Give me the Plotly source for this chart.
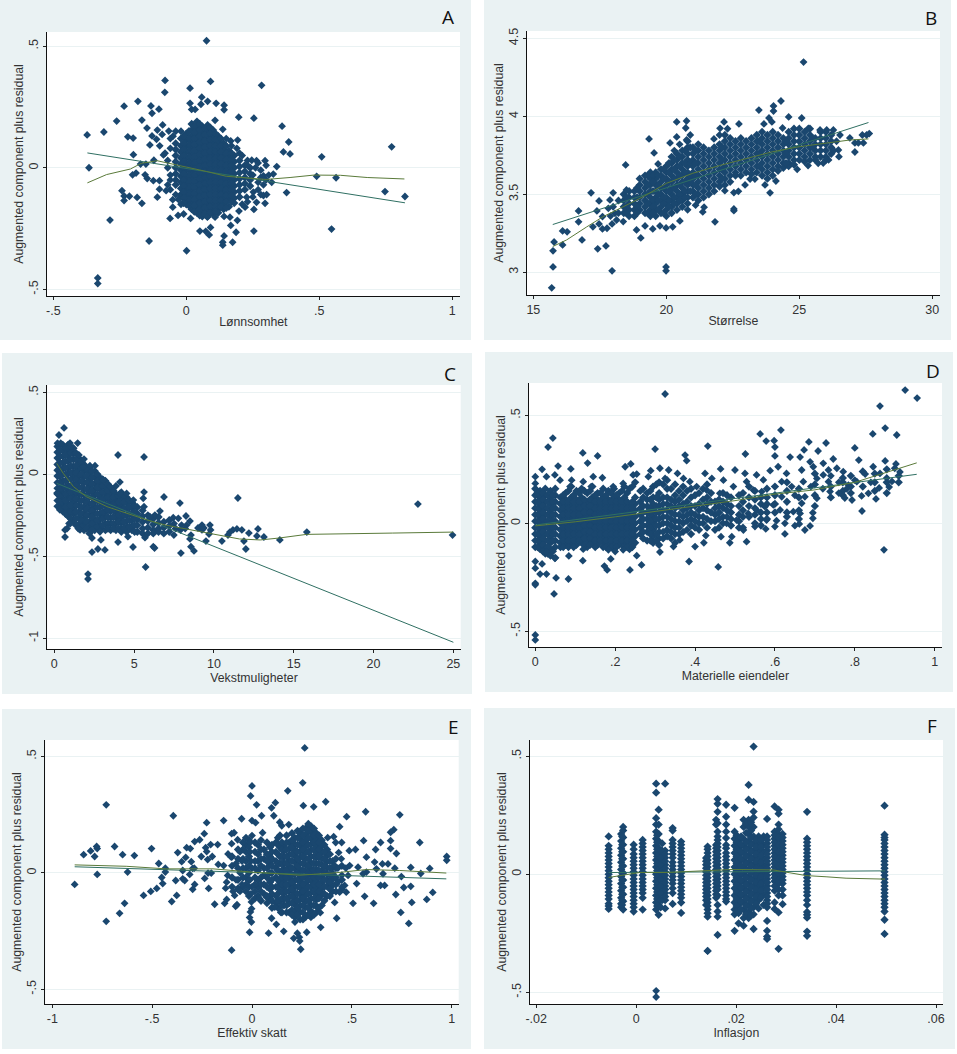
import plotly.graph_objects as go

# ---------- Panel A: Lønnsomhet ----------
a_col_x = [-.04,-.02,0,.02,.04,.06,.08,.1,.12,.14,.16,.18,.2,.22,.24,.01,.03,.05,.07,.09,.11,.13,-.01,.15,.17]
a_col_y = [
 [.10,.075,.05,.025,0,-.025,-.05,-.07],
 [.12,.09,.065,.04,.015,-.01,-.035,-.06,-.085,-.11,-.12],
 [.14,.115,.09,.065,.04,.015,-.01,-.035,-.06,-.085,-.11,-.135,-.15],
 [.18,.155,.13,.105,.08,.055,.03,.005,-.02,-.045,-.07,-.095,-.12,-.145,-.17],
 [.19,.165,.14,.115,.09,.065,.04,.015,-.01,-.035,-.06,-.085,-.11,-.135,-.16,-.185],
 [.17,.145,.12,.095,.07,.045,.02,-.005,-.03,-.055,-.08,-.105,-.13,-.155,-.18,-.2],
 [.175,.15,.125,.1,.075,.05,.025,0,-.025,-.05,-.075,-.1,-.125,-.15,-.175,-.2],
 [.155,.13,.105,.08,.055,.03,.005,-.02,-.045,-.07,-.095,-.12,-.145,-.17,-.19],
 [.13,.105,.08,.055,.03,.005,-.02,-.045,-.07,-.095,-.12,-.145,-.17,-.185],
 [.1,.075,.05,.025,0,-.025,-.05,-.075,-.1,-.125,-.15,-.17],
 [.07,.045,.02,-.005,-.03,-.055,-.08,-.105,-.13,-.16],
 [.05,.025,0,-.025,-.05,-.075,-.1,-.125,-.145],
 [.03,.005,-.02,-.045,-.07,-.095,-.12],
 [.01,-.015,-.04,-.065,-.09],
 [0,-.025,-.05,-.075],
 [.15,.12,.095,.07,.045,.02,-.005,-.03,-.055,-.08,-.105,-.13,-.155],
 [.17,.145,.12,.095,.07,.045,.02,-.005,-.03,-.055,-.08,-.105,-.13,-.155,-.18],
 [.18,.155,.13,.105,.08,.055,.03,.005,-.02,-.045,-.07,-.095,-.12,-.145,-.17,-.195],
 [.16,.135,.11,.085,.06,.035,.01,-.015,-.04,-.065,-.09,-.115,-.14,-.165,-.19],
 [.165,.14,.115,.09,.065,.04,.015,-.01,-.035,-.06,-.085,-.11,-.135,-.16,-.185],
 [.14,.115,.09,.065,.04,.015,-.01,-.035,-.06,-.085,-.11,-.135,-.16,-.18],
 [.12,.09,.065,.04,.015,-.01,-.035,-.06,-.085,-.11,-.135,-.16],
 [.13,.10,.075,.05,.025,0,-.025,-.05,-.075,-.1,-.125,-.145],
 [.09,.06,.035,.01,-.015,-.04,-.065,-.09,-.115,-.14,-.165],
 [.06,.035,.01,-.015,-.04,-.065,-.09,-.115,-.14],
]
a_pts = [(.076,.522),(-.08,.359),(.091,.355),(-.081,.31),(.014,.327),(.283,.339),(.058,.29),(.08,.273),(.014,.265),(.055,.261),
(.112,.265),(.142,.257),(.142,.238),(-.182,.273),(-.234,.253),(-.133,.254),(-.103,.241),(-.129,.224),(-.262,.192),(-.167,.196),
(.197,.208),(.254,.204),(.36,.171),(-.373,.135),(-.31,.147),(-.22,.127),(-.2,.122),(-.148,.163),(-.089,.176),(-.109,.155),
(-.129,.131),(-.091,.137),(-.066,.151),(.193,.114),(.385,.106),(-.137,.094),(-.112,.117),(-.1,.09),(.365,.065),(.39,.057),
(.772,.086),(.509,.045),(-.199,.054),(-.366,0),(-.172,.015),(-.152,.015),(-.122,.031),(-.086,.053),(-.189,-.022),(-.202,-.029),
(-.155,-.029),(-.147,-.044),(-.124,-.053),(-.101,-.053),(-.101,-.088),(-.076,-.094),(-.109,-.121),(-.242,-.094),(-.234,-.116),(-.234,-.135),
(-.214,-.117),(-.185,-.122),(-.167,-.146),(-.051,-.131),(-.051,-.162),(-.061,-.208),(-.031,-.196),(-.01,-.19),(.016,-.208),(-.287,-.215),
(-.14,-.301),(.001,-.341),(-.333,-.453),(-.333,-.476),(.051,-.26),(.091,-.245),(.073,-.261),(.086,-.276),(.142,-.28),(.137,-.306),
(.137,-.318),(.174,-.306),(.187,-.265),(.167,-.237),(.254,-.26),(.546,-.252),(.747,-.098),(.822,-.118),(.49,-.035),(.563,-.041),
(.377,-.102),(.296,-.146),(.264,-.142),(.254,-.171),(.221,-.162),(.198,-.178),(.192,-.216),(.164,-.203),(.142,-.2),(.108,-.203),
(.079,-.203),(.29,-.114),(.302,-.11),(.327,-.026),(.321,-.06),(.34,.005),(.296,.029),(.264,.029),(.246,.031),(.29,-.033),
(.252,-.10),(.227,-.121),(.167,.11),(.137,.158),(.108,.195),(.02,.24),(.033,.24),(-.06,.12),(-.08,.06),(-.07,.0),(-.06,-.05),
(-.06,-.09),(.25,-.03),(.27,-.06),(.28,-.01),(.23,.03),(.2,.06),(.17,.09),(.15,.12),(-.06,.08),(-.07,.03),(-.05,.13),(-.04,.15),
(-.02,.15),(-.06,-.03),(-.07,-.07),(-.04,-.11),(-.02,-.15),(-.03,-.13),(.26,0),(.27,.02),(.28,-.04),(.3,.01),(.3,-.05),(.31,-.03),
(.27,-.09),(.29,-.07),(.28,-.11),(.25,-.12),(.23,-.14),(.21,-.15),(.19,.08),(.21,.05),(.23,.01)]
a_reg_x = [-.372,.822]
a_reg_y = [.061,-.144]
a_low_x = [-.372,-.30,-.21,-.17,-.11,-.05,0,.075,.15,.23,.30,.39,.48,.58,.68,.82]
a_low_y = [-.062,-.028,-.005,.018,.029,.015,.005,-.015,-.035,-.043,-.048,-.04,-.03,-.031,-.04,-.046]

# ---------- Panel B: Størrelse ----------
b_col_x = [18.4,18.6,18.8,19,19.2,19.4,19.6,19.8,20,20.2,20.4,20.6,20.8,21,21.2,21.4,21.6,21.8,22,22.2,22.4,22.6,22.8,23,23.2,23.4,23.6,23.8,24,24.2,24.4,24.6,24.8,25,25.2,25.4,25.6,25.8,26,26.2,
           19.3,19.5,19.7,19.9,20.1,20.3,20.5,20.7,20.9,21.1,18.9,18.5,22.1,23.5,24.5,25.5]
b_col_y = [
 [3.50,3.46,3.42,3.38],[3.52,3.48,3.44,3.40,3.36],[3.52,3.48,3.44,3.40,3.36],[3.60,3.56,3.52,3.48,3.44,3.40],
 [3.62,3.58,3.54,3.50,3.46,3.42,3.38],[3.64,3.60,3.56,3.52,3.48,3.44,3.40,3.36],[3.64,3.60,3.56,3.52,3.48,3.44,3.40,3.36],
 [3.66,3.62,3.58,3.54,3.50,3.46,3.42,3.38],[3.68,3.64,3.60,3.56,3.52,3.48,3.44,3.40,3.36],[3.74,3.70,3.66,3.62,3.58,3.54,3.50,3.46,3.42,3.38],
 [3.76,3.72,3.68,3.64,3.60,3.56,3.52,3.48,3.44,3.40],[3.78,3.74,3.70,3.66,3.62,3.58,3.54,3.50,3.46,3.42],[3.84,3.80,3.76,3.72,3.68,3.64,3.60,3.56,3.52,3.48,3.44],
 [3.80,3.76,3.72,3.68,3.64,3.60,3.56,3.52,3.48],[3.82,3.78,3.74,3.70,3.66,3.62,3.58,3.54,3.50,3.46],[3.80,3.76,3.72,3.68,3.64,3.60,3.56,3.52,3.48],
 [3.78,3.74,3.70,3.66,3.62,3.58,3.54,3.50],[3.80,3.76,3.72,3.68,3.64,3.60,3.56,3.52],[3.82,3.78,3.74,3.70,3.66,3.62,3.58,3.55],
 [3.88,3.84,3.80,3.76,3.72,3.68,3.64,3.60,3.56],[3.86,3.82,3.78,3.74,3.70,3.66,3.62,3.58],[3.84,3.80,3.76,3.72,3.68,3.64,3.62],
 [3.86,3.82,3.78,3.74,3.70,3.66,3.62],[3.84,3.80,3.76,3.72,3.68,3.64],[3.86,3.82,3.78,3.74,3.70,3.66,3.63],
 [3.88,3.84,3.80,3.76,3.72,3.68,3.64],[3.90,3.86,3.82,3.78,3.74,3.70,3.66,3.62],[3.88,3.84,3.80,3.76,3.72,3.68,3.64,3.60],
 [3.90,3.86,3.82,3.78,3.74,3.70,3.66,3.62],[3.88,3.84,3.80,3.76,3.72,3.68,3.65],[3.86,3.82,3.78,3.74,3.70,3.67],
 [3.90,3.86,3.82,3.78,3.74,3.70,3.68],[3.92,3.88,3.84,3.80,3.76,3.72,3.69],[3.92,3.88,3.84,3.80,3.76,3.72],
 [3.90,3.86,3.82,3.78,3.74,3.71],[3.92,3.88,3.84,3.80,3.76,3.72],[3.86,3.82,3.78,3.74,3.72],[3.90,3.86,3.82,3.78,3.74],
 [3.90,3.86,3.82,3.78,3.74,3.72],[3.88,3.84,3.80,3.76],
 [3.62,3.56,3.50,3.44,3.38],[3.62,3.58,3.52,3.46,3.42,3.38],[3.62,3.56,3.50,3.46,3.40],[3.66,3.60,3.54,3.48,3.44,3.38],
 [3.70,3.64,3.58,3.52,3.46,3.42],[3.72,3.66,3.60,3.54,3.48,3.44],[3.74,3.68,3.62,3.56,3.50,3.46],[3.78,3.70,3.64,3.58,3.52,3.48],
 [3.80,3.70,3.62,3.58,3.52],[3.78,3.70,3.62,3.56,3.50],[3.54,3.48,3.42,3.38],[3.48,3.42,3.38],[3.80,3.72,3.66,3.60],[3.84,3.76,3.68],[3.84,3.76,3.70],[3.86,3.80],
]
b_pts = [(25.16,4.348),(15.69,2.9),(15.74,3.034),(15.74,3.137),(15.78,3.194),(16.1,3.175),(16.1,3.265),(16.27,3.259),(16.7,3.393),(16.7,3.323),
(16.83,3.207),(17.17,3.509),(17.24,3.291),(17.39,3.393),(17.42,3.15),(17.47,3.457),(17.47,3.31),(17.6,3.357),(17.6,3.278),(17.73,3.169),
(17.77,3.282),(17.96,3.009),(17.96,3.31),(18,3.509),(17.88,3.464),(17.82,3.41),(18.07,3.378),(18.13,3.335),(18.38,3.325),(18.47,3.688),
(18.5,3.528),(18.88,3.271),(19.04,3.22),(19.2,3.297),(19.35,3.855),(19.49,3.278),(19.54,3.765),(19.69,3.694),(19.76,3.297),(19.99,3.284),
(19.99,3.034),(19.99,3.009),(20.24,3.291),(20.51,3.329),(20.14,3.829),(20.39,3.964),(20.39,3.868),(20.76,3.97),(20.73,3.925),(20.76,3.848),
(21.83,3.323),(21.42,3.417),(21.37,3.387),(21.79,3.855),(22.17,3.964),(22.02,3.923),(22.2,3.523),(22.54,3.406),(22.54,3.395),(22.73,3.951),
(22.54,3.511),(22.71,3.519),(22.96,3.56),(23.15,3.598),(23.33,3.598),(23.48,4.04),(23.71,3.56),(23.9,3.509),(24.12,3.585),(24.03,4.034),
(24.03,4.066),(24.31,4.098),(23.86,3.989),(23.97,3.964),(23.67,3.951),(24.6,3.996),(24.37,3.925),(25.09,3.989),(26.9,3.861),(26.49,3.741),
(27.09,3.771),(27.09,3.829),(27.22,3.829),(27.41,3.829),(27.37,3.88),(27.53,3.88),(27.63,3.889),(26.53,3.88),(26.28,3.912),(26.03,3.912),
(25.78,3.912),(25.34,3.923),(25.33,3.684),(24.92,3.66),(25.71,3.699),(26.47,3.784),(18.2,3.46),(18.2,3.38),(18.0,3.42),(17.9,3.36),
(20.5,3.82),(20.3,3.78),(20.9,3.88),(20.8,3.40),(21.1,3.43),(22.3,3.92),(22.0,3.88),(26.4,3.84),(26.3,3.78),(26.1,3.72),(25.9,3.70)]
b_reg_x = [15.73,27.6]
b_reg_y = [3.306,3.96]
b_low_x = [15.73,16.25,17,17.63,18.38,19.14,20,21,22,23,24,25,26,26.9,27.6]
b_low_y = [3.165,3.207,3.29,3.357,3.42,3.485,3.57,3.635,3.684,3.73,3.773,3.805,3.83,3.848,3.855]

# ---------- Panel C: Vekstmuligheter ----------
c_col_x = [.2,.53,.86,1.2,1.53,1.86,2.2,2.53,2.86,3.2,3.53,3.86,4.2,4.53,4.86,5.2,5.53,5.86,6.2,6.53,6.86,7.2,
           .36,.7,1.03,1.36,1.7,2.03,2.36,2.7,3.03,3.36,3.7,4.03,4.36,4.7,5.03]
c_col_y = [
 [.17,.135,.10,.06,.025,-.01,-.05,-.085,-.12,-.16,-.195],
 [.18,.145,.11,.07,.035,0,-.04,-.075,-.11,-.15,-.185,-.225],
 [.18,.15,.115,.08,.04,.005,-.03,-.07,-.105,-.14,-.18,-.215,-.255],
 [.16,.125,.09,.05,.015,-.02,-.06,-.095,-.13,-.17,-.205,-.24,-.285],
 [.10,.065,.03,-.01,-.045,-.08,-.12,-.155,-.19,-.23,-.265,-.305],
 [.06,.02,-.015,-.05,-.09,-.125,-.16,-.2,-.235,-.27,-.31,-.34],
 [.04,.005,-.03,-.07,-.105,-.14,-.18,-.215,-.25,-.29,-.325,-.36],
 [.02,-.015,-.055,-.09,-.125,-.165,-.2,-.235,-.275,-.31,-.34],
 [-.02,-.055,-.09,-.13,-.165,-.2,-.24,-.275,-.31,-.33],
 [-.04,-.08,-.115,-.15,-.19,-.225,-.26,-.3,-.34],
 [-.08,-.115,-.155,-.19,-.225,-.265,-.3,-.34],
 [-.12,-.155,-.19,-.23,-.265,-.3,-.34],
 [-.11,-.15,-.185,-.22,-.26,-.295,-.33,-.35],
 [-.14,-.175,-.21,-.25,-.285,-.32,-.35],
 [-.17,-.205,-.245,-.28,-.315,-.34],
 [-.20,-.24,-.275,-.31,-.35],
 [-.22,-.255,-.29,-.33,-.36],
 [-.25,-.285,-.325,-.36],
 [-.27,-.305,-.34,-.36],
 [-.26,-.295,-.33,-.35],
 [-.29,-.325,-.36],
 [-.28,-.315,-.35],
 [.15,.11,.07,.03,-.01,-.05,-.09,-.13,-.17,-.21],
 [.16,.12,.08,.04,0,-.04,-.08,-.12,-.16,-.20,-.24],
 [.17,.13,.09,.05,.01,-.03,-.07,-.11,-.15,-.19,-.23,-.27],
 [.13,.09,.05,.01,-.03,-.07,-.11,-.15,-.19,-.23,-.27,-.31],
 [.08,.04,0,-.04,-.08,-.12,-.16,-.20,-.24,-.28,-.32],
 [.03,-.01,-.05,-.09,-.13,-.17,-.21,-.25,-.29,-.33],
 [.02,-.02,-.06,-.10,-.14,-.18,-.22,-.26,-.30,-.34],
 [0,-.04,-.08,-.12,-.16,-.20,-.24,-.28,-.32],
 [-.03,-.07,-.11,-.15,-.19,-.23,-.27,-.31],
 [-.06,-.10,-.14,-.18,-.22,-.26,-.30,-.33],
 [-.10,-.14,-.18,-.22,-.26,-.30,-.33],
 [-.13,-.17,-.21,-.25,-.29,-.33],
 [-.13,-.17,-.21,-.25,-.29,-.33],
 [-.16,-.20,-.24,-.28,-.32],
 [-.19,-.23,-.27,-.31,-.35],
]
c_pts = [(.61,.283),(.29,.24),(1.46,.191),(.98,.191),(1.54,.118),(1.86,.093),(3.99,.118),(5.62,.106),(5.62,-.108),(4.11,-.047),
(3.86,-.071),(6.87,-.138),(7.87,-.175),(11.5,-.144),(22.78,-.181),(24.95,-.37),(15.82,-.352),(14.13,-.40),(13.13,-.382),(12.76,-.333),
(12.69,-.376),(12.19,-.358),(12.0,-.455),(11.88,-.407),(11.75,-.339),(11.44,-.333),(11.19,-.339),(11.0,-.352),(10.88,-.37),(10.5,-.407),
(9.75,-.309),(9.79,-.339),(9.69,-.364),(9.5,-.407),(9.25,-.309),(9.25,-.339),(9.0,-.327),(9.37,-.327),(8.5,-.285),(8.25,-.254),
(8.56,-.37),(8.5,-.394),(8.56,-.441),(8.75,-.467),(7.93,-.48),(7.49,-.37),(7.77,-.268),(7.45,-.264),(7.97,-.309),(8.29,-.309),
(6.62,-.224),(6.3,-.248),(5.99,-.258),(4.93,-.443),(3.99,-.413),(3.17,-.461),(2.73,-.455),(2.36,-.474),(2.11,-.608),(2.11,-.638),
(5.72,-.565),(2.92,-.40),(2.36,-.388),(.67,-.382),(.67,-.339),(.92,-.299),(.17,-.114),(.35,-.217),(6.2,-.441),(6.28,-.449),
(5.68,-.386),(4.61,-.38),(2.86,-.35),(1.61,-.339),(5.62,-.197),(5.57,-.146),(4.95,-.157),(4.53,-.116),(4.11,-.116),(3.49,-.075),
(2.55,.053),(2.23,.053),(1.82,.047),(3.07,-.035),(.8,-.33),(1.0,-.30),(1.5,-.33),(.2,.19),(.4,.19),(7.5,-.30),(7.6,-.33),(7.9,-.34),(8.2,-.33)]
c_reg_x = [.15,25]
c_reg_y = [-.055,-1.024]
c_low_x = [.15,.56,1.2,2.0,3.3,4.5,5.8,7,8.3,10,11.6,12.9,14.1,15.8,18.1,21.2,25]
c_low_y = [.067,.006,-.075,-.136,-.197,-.238,-.278,-.31,-.335,-.364,-.394,-.40,-.388,-.366,-.364,-.358,-.352]

# ---------- Panel D: Materielle eiendeler ----------
d_col_x = [0,.012,.025,.038,.05,.063,.076,.09,.103,.116,.13,.143,.156,.17,.183,.197,.21,.223,.236,.25,.263,.28,.295,.31,.33,.35,.37,.39,.41,.43,.45,.47,.49,.52,.55,.58,
           .006,.019,.031,.044,.07,.083,.096,.11,.123,.137,.15,.163,.177,.19,.203,.217,.23,.243,.27,.288,.303,.32,.34,.36,.38,.40,.42,.44,.46,.48,.51,.535,.565,.60,.63,.66,.70,.74,.77,.79,.82,.85,.88,.91]
d_col_y = [
 [.16,.13,.10,.07,.04,.01,-.02,-.05,-.08,-.11],
 [.15,.12,.09,.06,.03,0,-.03,-.06,-.09,-.12],
 [.16,.13,.10,.07,.04,.01,-.02,-.05,-.08,-.11,-.14],
 [.15,.12,.09,.06,.03,0,-.03,-.06,-.09,-.12,-.15],
 [.16,.13,.10,.07,.04,.01,-.02,-.05,-.08,-.11,-.16],
 [.12,.09,.06,.03,0,-.03,-.06,-.09,-.11],
 [.14,.11,.08,.05,.02,-.01,-.04,-.07,-.10],
 [.17,.12,.09,.06,.03,0,-.03,-.06,-.09],
 [.15,.11,.08,.05,.02,-.01,-.04,-.07,-.10],
 [.16,.12,.09,.06,.03,0,-.03,-.06,-.09],
 [.14,.10,.07,.04,.01,-.02,-.05,-.08,-.11],
 [.17,.12,.09,.06,.03,0,-.03,-.06,-.09],
 [.14,.11,.08,.05,.02,-.01,-.04,-.07,-.10],
 [.16,.12,.09,.06,.03,0,-.03,-.06,-.09,-.11],
 [.15,.11,.08,.05,.02,-.01,-.04,-.07,-.10],
 [.16,.12,.09,.06,.03,0,-.03,-.06,-.09,-.12],
 [.14,.11,.08,.05,.02,-.01,-.04,-.07,-.10],
 [.17,.12,.09,.06,.03,0,-.03,-.06,-.09,-.11],
 [.16,.08,.05,.02,-.01,-.04,-.07,-.10,-.12],
 [.19,.12,.09,.06,.03,0,-.03,-.06,-.09],
 [.15,.10,.07,.04,.01,-.02,-.05],
 [.14,.11,.08,.05,.02,-.01,-.04,-.08],
 [.17,.12,.09,.06,.03,0,-.03,-.06,-.09],
 [.19,.14,.11,.08,.05,.02,-.01,-.04,-.07,-.10],
 [.20,.16,.12,.09,.06,.03,0,-.03,-.06],
 [.18,.13,.10,.07,.04,.01,-.02,-.05,-.09],
 [.17,.13,.09,.06,.03,0,-.04],
 [.16,.12,.08,.05,.02,-.01,-.05],
 [.14,.09,.06,.03,0,-.03],
 [.18,.12,.09,.06,.02,-.02],
 [.10,.07,.04,.01,-.03],
 [.14,.10,.07,.03,0],
 [.12,.08,.05,.02,-.01],
 [.14,.10,.06,.03,-.02],
 [.15,.11,.07,.04,0],
 [.16,.12,.09,.05,.02],
 [.14,.10,.07,.04,.01,-.02,-.05,-.08,-.11],
 [.14,.11,.08,.05,.02,-.01,-.04,-.07,-.10,-.13],
 [.13,.10,.07,.04,.01,-.02,-.05,-.08,-.11,-.14],
 [.13,.10,.07,.04,.01,-.02,-.05,-.08,-.13],
 [.13,.10,.07,.04,.01,-.02,-.05,-.08,-.11],
 [.15,.10,.07,.04,.01,-.02,-.05,-.08,-.11],
 [.13,.10,.07,.04,.01,-.02,-.05,-.08,-.11],
 [.14,.10,.07,.04,.01,-.02,-.05,-.08],
 [.15,.11,.08,.05,.02,-.01,-.04,-.07,-.10],
 [.15,.11,.08,.05,.02,-.01,-.04,-.07,-.10],
 [.13,.10,.07,.04,.01,-.02,-.05,-.08,-.11],
 [.14,.10,.07,.04,.01,-.02,-.05,-.08],
 [.13,.10,.07,.04,.01,-.02,-.05,-.08,-.11],
 [.14,.10,.07,.04,.01,-.02,-.05,-.08,-.11],
 [.13,.10,.07,.04,.01,-.02,-.05,-.08,-.11],
 [.15,.10,.07,.04,.01,-.02,-.05,-.08],
 [.14,.10,.07,.04,.01,-.02,-.05,-.08,-.11],
 [.17,.10,.07,.04,.01,-.02,-.05,-.08,-.11],
 [.16,.12,.08,.05,.02,-.01,-.04,-.07],
 [.15,.11,.07,.04,.01,-.02,-.05,-.08],
 [.18,.12,.08,.05,.02,-.01,-.05,-.08],
 [.18,.12,.09,.06,.03,0,-.04,-.07],
 [.16,.11,.08,.05,.02,-.01,-.04,-.07],
 [.15,.11,.08,.04,.01,-.02,-.05],
 [.15,.10,.07,.04,.01,-.03],
 [.13,.08,.04,.01,-.02],
 [.16,.11,.07,.03,0],
 [.14,.10,.05,.01],
 [.11,.08,.05,.02,-.02],
 [.13,.09,.06,.03],
 [.13,.08,.04,.01,-.02],
 [.17,.12,.08,.03],
 [.12,.09,.05,.02,-.01],
 [.17,.13,.09,.05],
 [.19,.15,.10,.05,.03],
 [.16,.12,.06,.02],
 [.23,.18,.13,.08],
 [.17,.12],
 [.21,.19,.15,.13],
 [.22,.17,.14],
 [.24,.17],
 [.23,.19,.15],
 [.25,.19,.14],
 [.22,.19],
]
d_pts = [(.325,.599),(.926,.617),(.956,.58),(.863,.543),(.876,.441),(.845,.414),(.905,.409),(.80,.349),(.81,.293),(.044,.395),
(.032,.353),(.119,.326),(.156,.312),(.131,.279),(.057,.265),(.017,.25),(.089,.252),(.30,.344),(.375,.316),(.379,.29),
(.432,.358),(.563,.414),(.578,.381),(.598,.383),(.60,.353),(.60,.312),(.615,.432),(.526,.321),(.638,.307),(.663,.307),
(.673,.34),(.685,.377),(.708,.335),(.728,.372),(.746,.298),(.876,.289),(.903,.275),(.873,-.123),(.818,.057),(.793,.108),
(.775,.117),(.853,.113),(.834,.139),(.817,.127),(.861,.164),(.886,.168),(.893,.194),(.913,.238),(.90,.255),(.863,.231),
(.846,.262),(.826,.228),(.805,.193),(.784,.177),(.771,.239),(.755,.255),(.734,.247),(.721,.278),(.721,.224),(.734,.193),
(.738,.147),(.705,.208),(.705,.116),(.696,.262),(.688,.285),(.667,.247),(.671,.193),(.675,.123),(.667,.093),(.695,.049),
(.695,.023),(.688,-.012),(.675,-.031),(.663,.046),(.661,-.003),(.65,-.011),(.646,.054),(.625,-.049),(.625,0),(.60,-.015),
(.604,.012),(.613,.062),(.596,.085),(.617,.123),(.642,.17),(.617,.193),(.629,.231),(.608,.262),(.588,.244),(.571,.201),
(.554,.224),(.546,.154),(.567,.147),(.575,.077),(.579,.015),(.577,-.026),(.554,.062),(.55,-.015),(.533,.046),(.521,-.031),
(.529,-.085),(.504,.015),(.492,-.062),(.487,-.09),(.465,-.062),(.479,0),(.458,-.202),(.422,-.09),(.427,-.057),(.40,-.108),
(.385,-.177),(.362,-.077),(.346,-.108),(.312,-.133),(.266,-.193),(.237,-.216),(.18,-.216),(.173,-.198),(.189,-.165),(.119,-.173),
(.083,-.258),(.052,-.253),(.047,-.327),(.028,-.235),(.012,-.235),(0,-.208),(0,-.177),(.017,-.188),(0,-.278),(0,-.285),
(0,-.517),(0,-.54),(.084,-.151),(.049,-.162),(.028,-.131),(.254,-.15),(.22,-.123),(.2,-.131),(.183,-.123),(.12,-.12),
(0,.216),(0,.185),(.028,.216),(.049,.224),(.062,.2),(.087,.17),(.091,.2),(.12,.193),(.145,.216),(.14,.17),
(.168,.211),(.195,.17),(.22,.185),(.225,.262),(.239,.275),(.245,.224),(.254,.228),(.283,.216),(.289,.244),(.312,.255),
(.334,.247),(.325,.208),(.356,.231),(.371,.208),(.387,.193),(.425,.231),(.442,.208),(.464,.252),(.471,.2),(.5,.247),
(.525,.231),(.529,.193),(.496,.17),(.462,.139),(.429,.154),(.404,.17),(.76,.19),(.78,.16),(.8,.2),(.84,.19),(.88,.21),(.74,.22),(.69,.17),(.65,.13),(.72,.16),(.76,.14)]
d_reg_x = [0,.955]
d_reg_y = [-.008,.227]
d_low_x = [0,.1,.2,.3,.4,.5,.6,.7,.8,.9,.955]
d_low_y = [-.012,.007,.03,.055,.08,.105,.135,.155,.19,.25,.28]

# ---------- Panel E: Effektiv skatt ----------
e_col_x = [-.03,.03,.06,.09,.12,.14,.16,.187,.214,.241,.268,.295,.322,.349,.376,.403,
           .10,.13,.15,.173,.20,.228,.255,.282,.31,.335,.362,.39,.42,.45,.075,.045,.015,-.015,-.045,-.07,-.10]
e_col_y = [
 [.15,.12,.09,.05,.02,-.02,-.05,-.08],
 [.12,.08,.05,.01,-.03,-.06,-.10],
 [.10,.06,.02,-.01,-.05,-.09],
 [.11,.07,.04,0,-.04,-.07,-.11],
 [.13,.09,.05,.02,-.02,-.06,-.10,-.13],
 [.16,.11,.07,.04,0,-.04,-.08,-.12],
 [.12,.094,.068,.042,.016,-.01,-.036,-.062,-.088,-.114,-.14],
 [.13,.104,.078,.052,.026,0,-.026,-.052,-.078,-.104,-.13,-.17],
 [.15,.124,.098,.072,.046,.02,-.006,-.032,-.058,-.084,-.11,-.136,-.162,-.19],
 [.17,.144,.118,.092,.066,.04,.014,-.012,-.038,-.064,-.09,-.116,-.142,-.168,-.2],
 [.19,.164,.138,.112,.086,.06,.034,.008,-.018,-.044,-.07,-.096,-.122,-.148,-.19],
 [.20,.174,.148,.122,.096,.07,.044,.018,-.008,-.034,-.06,-.086,-.112,-.138,-.164,-.19],
 [.17,.144,.118,.092,.066,.04,.014,-.012,-.038,-.064,-.09,-.116,-.142,-.17],
 [.14,.114,.088,.062,.036,.01,-.016,-.042,-.068,-.094,-.14],
 [.10,.074,.048,.022,-.004,-.03,-.056,-.10],
 [.05,.024,-.002,-.028,-.054,-.08],
 [.12,.09,.06,.03,0,-.03,-.06,-.09,-.12,-.15],
 [.15,.12,.08,.04,.01,-.03,-.06,-.09,-.12,-.15],
 [.13,.10,.07,.04,.01,-.02,-.05,-.08,-.11,-.14,-.17],
 [.16,.13,.10,.07,.04,.01,-.02,-.05,-.08,-.11,-.14,-.17],
 [.17,.14,.11,.08,.05,.02,-.01,-.04,-.07,-.10,-.13,-.16,-.18],
 [.18,.15,.12,.09,.06,.03,0,-.03,-.06,-.09,-.12,-.15,-.18],
 [.19,.16,.13,.10,.07,.04,.01,-.02,-.05,-.08,-.11,-.14,-.17,-.20],
 [.21,.18,.15,.12,.09,.06,.03,0,-.03,-.06,-.09,-.12,-.15,-.18],
 [.19,.16,.13,.10,.07,.04,.01,-.02,-.05,-.08,-.11,-.14,-.18],
 [.16,.13,.10,.07,.04,.01,-.02,-.05,-.08,-.11,-.15],
 [.12,.09,.06,.03,0,-.03,-.06,-.09,-.12],
 [.08,.05,.02,-.01,-.04,-.07,-.10],
 [.06,.02,-.02,-.05,-.08],
 [.03,-.03,-.07],
 [.13,.08,.05,.02,-.02,-.06,-.10,-.13],
 [.14,.10,.06,.03,-.02,-.05,-.08,-.12],
 [.13,.09,.05,.02,-.02,-.05,-.08,-.11],
 [.14,.11,.07,.03,0,-.03,-.06,-.10],
 [.13,.10,.06,.02,-.02,-.06],
 [.10,.06,.02,-.03,-.07],
 [.07,.03,-.02,-.06],
]
e_pts = [(.264,.536),(.254,.386),(0,.373),(-.007,.33),(.179,.352),(.023,.292),(.117,.301),(.098,.279),(.369,.305),(.257,.288),
(.309,.283),(-.73,.292),(-.394,.245),(.569,.262),(.74,.249),(.474,.241),(.048,.245),(.109,.245),(-.142,.224),(-.052,.232),
(-.227,.215),(0,.224),(.018,.215),(.139,.217),(.149,.202),(.184,.207),(.439,.198),(.71,.185),(.694,.174),(-.239,.168),
(-.262,.142),(-.287,.134),(-.102,.168),(-.09,.172),(.053,.172),(-.072,.142),(-.102,.125),(.409,.155),(.379,.151),(.559,.138),
(.644,.13),(.694,.138),(.84,.13),(.419,.13),(.449,.13),(.619,.1),(.694,.104),(.723,.083),(.487,.095),(.518,.1),
(.434,.087),(-.843,.078),(-.808,.094),(-.788,.07),(-.778,.113),(-.775,.104),(-.688,.113),(-.648,.078),(-.589,.074),(-.503,.104),
(-.372,.087),(-.327,.108),(-.309,.104),(-.352,.048),(-.332,.066),(-.304,.048),(-.254,.07),(-.232,.108),(-.207,.121),(-.172,.121),
(-.227,.091),(-.199,.07),(-.222,.057),(-.467,.04),(-.434,.02),(-.434,.003),(-.347,.01),(-.297,.019),(-.289,.02),(-.22,-.001),
(-.204,-.001),(-.169,.036),(-.142,.031),(-.12,.081),(-.104,.067),(-.775,-.007),(-.623,.003),(-.888,-.05),(-.452,-.02),(-.447,-.046),
(-.382,-.033),(-.347,-.026),(-.337,-.033),(-.312,-.007),(-.287,-.05),(-.297,-.071),(-.237,-.024),(-.217,-.067),(-.477,-.067),(-.507,-.08),
(-.543,-.097),(-.377,-.097),(-.402,-.123),(-.638,-.131),(-.663,-.174),(-.73,-.208),(-.187,-.135),(-.137,-.131),(-.127,-.114),(-.132,-.066),
(-.127,-.04),(-.122,-.011),(-.082,-.144),(-.075,-.137),(-.087,-.097),(-.095,-.08),(-.07,-.066),(-.102,-.332),(-.012,-.255),(.083,-.259),
(.159,-.251),(.122,-.221),(.098,-.195),(-.003,-.211),(-.012,-.192),(.144,-.17),(.209,-.281),(.227,-.259),(.237,-.276),(.239,-.293),
(.244,-.328),(.274,-.255),(.344,-.234),(.424,-.195),(.215,-.211),(.342,-.171),(.414,-.127),(.506,-.131),(.524,-.046),(.564,-.101),
(.609,-.131),(.644,-.054),(.664,-.054),(.72,-.093),(.76,-.063),(.745,-.17),(.785,-.217),(.8,-.127),(.795,-.058),(.875,-.114),
(.905,-.084),(.845,-.003),(.89,.019),(.795,.023),(.975,.07),(.975,.054),(.748,-.016),(.715,.02),(.681,.038),(.656,-.004),
(.653,.038),(.614,.046),(.623,.017),(.573,.067),(.573,.003),(.531,.024),(.489,.031),(.464,-.054),(.472,-.083),(.439,-.083),
(.447,.06),(.414,.031),(.481,-.011),(.556,-.004),(-.003,-.125),(-.002,-.154),(-.008,-.168),(.038,-.111),(.072,-.104),(.114,-.147),
(0,.02),(-.005,.05),(-.01,.09),(-.01,.13),(0,.16),(-.06,.09),(-.05,.05),(-.08,.04),(-.06,.0),(-.08,-.03),(-.05,-.05),(-.06,-.08),(-.01,-.03),(0,-.06),(-.005,-.09),(.43,.02),(.45,-.01),(.47,.02),(.43,-.04),(.45,-.06)]
e_reg_x = [-.888,.973]
e_reg_y = [.026,-.026]
e_low_x = [-.888,-.63,-.43,-.195,0,.24,.406,.573,.74,.973]
e_low_y = [.034,.028,.017,.017,.003,-.01,-.001,.014,.01,-.001]

# ---------- Panel F: Inflasjon ----------
f_col_x = [-.0055,-.003,-.0026,-.0005,.0013,.004,.0045,.0052,.0058,.0073,.009,.014,.0143,.016,.0163,.018,.0197,.0205,.0215,.0225,.0235,.0245,.0255,.0262,.0277,.0285,.0293,.0342,.0497,
           -.0055,-.0028,-.0005,.0013,.0042,.0049,.0058,.0073,.009,.014,.0143,.016,.0163,.018,.0201,.021,.022,.023,.024,.025,.0262,.0277,.0285,.0293,.0342,.0497]
f_col_y = [
 [.16,.12,.09,.06,.03,0,-.03,-.06,-.09,-.125,-.135,-.147],
 [.17,.14,.11,.08,.05,.02,-.01,-.04,-.07,-.10,-.125,-.14],
 [.20,.185,.155,.125,.095,.065,.035,.005,-.025,-.055,-.085,-.115,-.15],
 [.125,.085,.055,.025,-.005,-.035,-.065,-.095,-.125,-.158],
 [.145,.115,.085,.055,.025,-.005,-.035,-.065,-.10,-.15],
 [.237,.21,.18,.15,.12,.09,.06,.03,0,-.03,-.06,-.09,-.12,-.15,.383,.345],
 [.21,.17,.14,.11,.08,.05,.02,-.01,-.04,-.07,-.10,-.13,-.172,.273],
 [.13,.10,.07,.04,.01,-.02,-.05,-.08,-.11],
 [.10,.07,.04,.01,-.02,-.05,-.08,-.11,-.145,.383],
 [.195,.185,.145,.115,.085,.05,.02,-.01,-.04,-.08,-.126],
 [.138,.11,.08,.05,.02,-.01,-.04,-.07,-.10,-.12,-.164],
 [.068,.04,.01,-.02,-.05,-.08,-.11,-.13],
 [.117,.09,.06,.03,0,-.03,-.06,-.09,-.12,-.15,-.18,-.325],
 [.124,.095,.065,.035,.005,-.025,-.055,-.085,-.10,.23,.21],
 [.318,.298,.264,.216,.18,.16,.13,.10,.07,.04,.01,-.02,-.05,-.13,-.158,-.18,-.257],
 [.294,.243,.21,.18,.153,.124,.09,.06,.03,0,-.03,-.06,-.09,-.116],
 [.281,.18,.15,.12,.09,.06,.03,0,-.03,-.06,-.09,-.12,-.15,-.17,-.24],
 [.14,.11,.08,.05,.02,-.01,-.04,-.07,-.10,-.13,-.165,-.208],
 [.23,.20,.15,.12,.09,.06,.03,0,-.03,-.06,-.09,-.12,-.15,-.186,-.218],
 [.378,.315,.23,.20,.17,.14,.11,.08,.05,.02,-.01,-.04,-.07,-.10,-.13,-.16,-.186],
 [.54,.306,.265,.24,.20,.16,.13,.10,.07,.04,.01,-.02,-.05,-.08,-.11,-.14,-.17,-.232],
 [.16,.13,.10,.07,.04,.01,-.02,-.05,-.08,-.11,-.145],
 [.16,.125,.095,.065,.035,.005,-.025,-.055,-.085,-.13],
 [.234,.16,.13,.10,.07,.04,.01,-.02,-.05,-.08,-.11,-.14,-.198,-.24,-.264,-.274],
 [.287,.18,.15,.12,.09,.06,.03,0,-.03,-.07,-.12,-.147],
 [.273,.256,.21,.17,.14,.11,.08,.05,.02,-.01,-.04,-.09,-.162,-.316],
 [.17,.14,.11,.08,.05,.02,-.01,-.04,-.09,-.127],
 [.264,.15,.12,.09,.06,.03,0,-.03,-.06,-.09,-.13,-.16,-.172,-.184,-.243,-.261],
 [.29,.167,.145,.115,.085,.055,.025,-.005,-.035,-.065,-.095,-.125,-.158,-.193,-.253],
 [.105,.075,.045,.015,-.015,-.045,-.075,-.105],
 [.16,.125,.095,.065,.035,.005,-.025,-.055,-.085,-.11,-.13],
 [.105,.07,.04,.01,-.02,-.05,-.08,-.11,-.14],
 [.13,.10,.07,.04,.01,-.02,-.05,-.08],
 [.165,.135,.105,.075,.045,.015,-.015,-.045,-.075,-.105,-.135],
 [.10,.07,.04,.01,-.02,-.05,-.08,-.11,-.14],
 [.085,.055,.025,-.005,-.035,-.065,-.095],
 [.13,.10,.07,.035,.005,-.025,-.06],
 [.125,.095,.065,.035,.005,-.025,-.055,-.085],
 [.055,.025,-.005,-.035,-.065,-.095],
 [.105,.075,.045,.015,-.015,-.045,-.075,-.105,-.135,-.165],
 [.11,.08,.05,.02,-.01,-.04,-.07],
 [.145,.115,.085,.055,.025,-.005,-.035,-.065,-.09],
 [.11,.075,.045,.015,-.015,-.045,-.075,-.105],
 [.165,.135,.105,.075,.045,.015,-.015,-.045,-.075,-.105,-.135,-.155],
 [.16,.125,.095,.065,.035,.005,-.025,-.055,-.085,-.115,-.15],
 [.215,.175,.135,.105,.075,.045,.015,-.015,-.045,-.075,-.105,-.135,-.17],
 [.22,.185,.155,.125,.095,.065,.035,.005,-.025,-.055,-.085,-.115,-.145,-.175],
 [.145,.115,.085,.055,.025,-.005,-.035,-.065,-.095,-.125],
 [.145,.115,.08,.05,.02,-.01,-.04,-.07,-.10],
 [.145,.115,.085,.055,.025,-.005,-.035,-.065,-.095,-.125],
 [.165,.135,.105,.075,.045,.015,-.015,-.05],
 [.19,.155,.125,.095,.065,.035,.005,-.025,-.065],
 [.155,.125,.095,.065,.035,.005,-.025,-.065],
 [.135,.105,.075,.045,.015,-.015,-.045,-.075,-.11],
 [.155,.13,.10,.07,.04,.01,-.02,-.05,-.08,-.11,-.14],
]
f_pts = [(.004,-.494),(.004,-.52),(.0143,-.325)]
f_reg_x = [-.0055,.0498]
f_reg_y = [.007,.014]
f_low_x = [-.0055,-.0026,.0007,.006,.0114,.0194,.0274,.034,.038,.042,.0498]
f_low_y = [-.014,-.003,.007,.007,.013,.02,.018,-.006,-.011,-.017,-.021]

# ---------- Axis labels ----------
x_titles = ["Lønnsomhet","Størrelse","Vekstmuligheter","Materielle eiendeler","Effektiv skatt","Inflasjon"]
y_title = "Augmented component plus residual"
letters = ["A","B","C","D","E","F"]
half_ticks = [-.5,0,.5]
half_text = ["-.5","0",".5"]
x_tickvals = [[-.5,0,.5,1],[15,20,25,30],[0,5,10,15,20,25],[0,.2,.4,.6,.8,1],[-1,-.5,0,.5,1],[-.02,0,.02,.04,.06]]
x_ticktext = [["-.5","0",".5","1"],["15","20","25","30"],["0","5","10","15","20","25"],["0",".2",".4",".6",".8","1"],["-1","-.5","0",".5","1"],["-.02","0",".02",".04",".06"]]
y_tickvals = [half_ticks,[3,3.5,4,4.5],[-1,-.5,0,.5],half_ticks,half_ticks,half_ticks]
y_ticktext = [half_text,["3","3.5","4","4.5"],["-1","-.5","0",".5"],half_text,half_text,half_text]
x_ranges = [(-.525,1.029),(14.75,30.29),(-.44,25.46),(-.0165,1.0183),(-1.035,1.035),(-.0213,.0614)]
y_ranges = [(-.527,.558),(2.854,4.547),(-1.065,.545),(-.573,.65),(-.563,.57),(-.5496,.568)]

# ---------- Layout in pixels: panel box and plot box (left, top, right, bottom) ----------
W, H = 957, 1054
panels = [(0,0,471,340),(484,0,951,340),(2,353,472,694),(485,352,953,692),(2,709,471,1049),(484,708,955,1049)]
plots = [(46.7,32,460,296),(526.7,31,940,295),(47.3,385,460.7,649),(528.7,383,942,647),(45.3,740,458.7,1004),(529.7,740,943,1004)]
letter_pos = [(448,17),(931,18),(450,374),(933,371),(453,727),(932,726)]
core_size = 6.4
scatter_size = 6

NAVY, TEAL, OLIVE, BG = "#1a476f", "#2f6f62", "#5a7a3a", "#eaf2f3"
FONT = "Liberation Sans"

col_x = [a_col_x,b_col_x,c_col_x,d_col_x,e_col_x,f_col_x]
col_y = [a_col_y,b_col_y,c_col_y,d_col_y,e_col_y,f_col_y]
pts = [a_pts,b_pts,c_pts,d_pts,e_pts,f_pts]
regs = [(a_reg_x,a_reg_y),(b_reg_x,b_reg_y),(c_reg_x,c_reg_y),(d_reg_x,d_reg_y),(e_reg_x,e_reg_y),(f_reg_x,f_reg_y)]
lows = [(a_low_x,a_low_y),(b_low_x,b_low_y),(c_low_x,c_low_y),(d_low_x,d_low_y),(e_low_x,e_low_y),(f_low_x,f_low_y)]

fig = go.Figure()
layout = dict(width=W, height=H, margin=dict(l=0,r=0,t=0,b=0,pad=0,autoexpand=False), autosize=False, showlegend=False,
              paper_bgcolor="white", plot_bgcolor="white", shapes=[], annotations=[])
for i in range(6):
    s = "" if i == 0 else str(i+1)
    xa, ya = "x"+s, "y"+s
    xs, ys = [], []
    for cx, cy in zip(col_x[i], col_y[i]):
        for v in cy:
            xs.append(cx); ys.append(v)
    fig.add_trace(go.Scatter(x=xs, y=ys, mode="markers", xaxis=xa, yaxis=ya,
                             marker=dict(symbol="diamond", size=core_size, color=NAVY, line=dict(width=0))))
    fig.add_trace(go.Scatter(x=[p[0] for p in pts[i]], y=[p[1] for p in pts[i]], mode="markers", xaxis=xa, yaxis=ya,
                             marker=dict(symbol="diamond", size=scatter_size, color=NAVY, line=dict(width=0))))
    fig.add_trace(go.Scatter(x=regs[i][0], y=regs[i][1], mode="lines", xaxis=xa, yaxis=ya, line=dict(color=TEAL, width=1)))
    fig.add_trace(go.Scatter(x=lows[i][0], y=lows[i][1], mode="lines", xaxis=xa, yaxis=ya, line=dict(color=OLIVE, width=1)))
    l,t,r,b = plots[i]
    axis_common = dict(ticks="outside", ticklen=3, tickwidth=1, tickcolor="#222", showline=True, linecolor="#111", linewidth=1.3,
                       zeroline=False, automargin=False, tickfont=dict(family=FONT, size=12.5, color="#333"))
    layout["xaxis"+s] = dict(domain=[l/W, r/W], range=x_ranges[i], anchor=ya, tickvals=x_tickvals[i], ticktext=x_ticktext[i],
                             showgrid=False, title=dict(text=x_titles[i], font=dict(family=FONT, size=12.3, color="#333"), standoff=0), **axis_common)
    layout["yaxis"+s] = dict(domain=[1-b/H, 1-t/H], range=y_ranges[i], anchor=xa, tickvals=y_tickvals[i], ticktext=y_ticktext[i], tickangle=-90,
                             showgrid=True, gridcolor=BG, gridwidth=1, title=dict(text=y_title, font=dict(family=FONT, size=12.3, color="#333"), standoff=0), **axis_common)
    pl,pt,pr,pb = panels[i]
    layout["shapes"].append(dict(type="rect", xref="paper", yref="paper", x0=pl/W, x1=pr/W, y0=1-pb/H, y1=1-pt/H,
                                 fillcolor=BG, line=dict(width=0), layer="below"))
    layout["shapes"].append(dict(type="rect", xref="paper", yref="paper", x0=l/W, x1=r/W, y0=1-b/H, y1=1-t/H,
                                 fillcolor="white", line=dict(width=0), layer="below"))
    lx, ly = letter_pos[i]
    layout["annotations"].append(dict(text=letters[i], xref="paper", yref="paper", x=lx/W, y=1-ly/H, showarrow=False,
                                      xanchor="center", yanchor="middle", font=dict(family="Open Sans", size=19, color="#111")))
fig.update_layout(**layout)
fig.write_html("out.html", config={"displayModeBar":False}, post_script="document.body.style.margin='0';document.documentElement.style.overflow='hidden';window.dispatchEvent(new Event('resize'));")
